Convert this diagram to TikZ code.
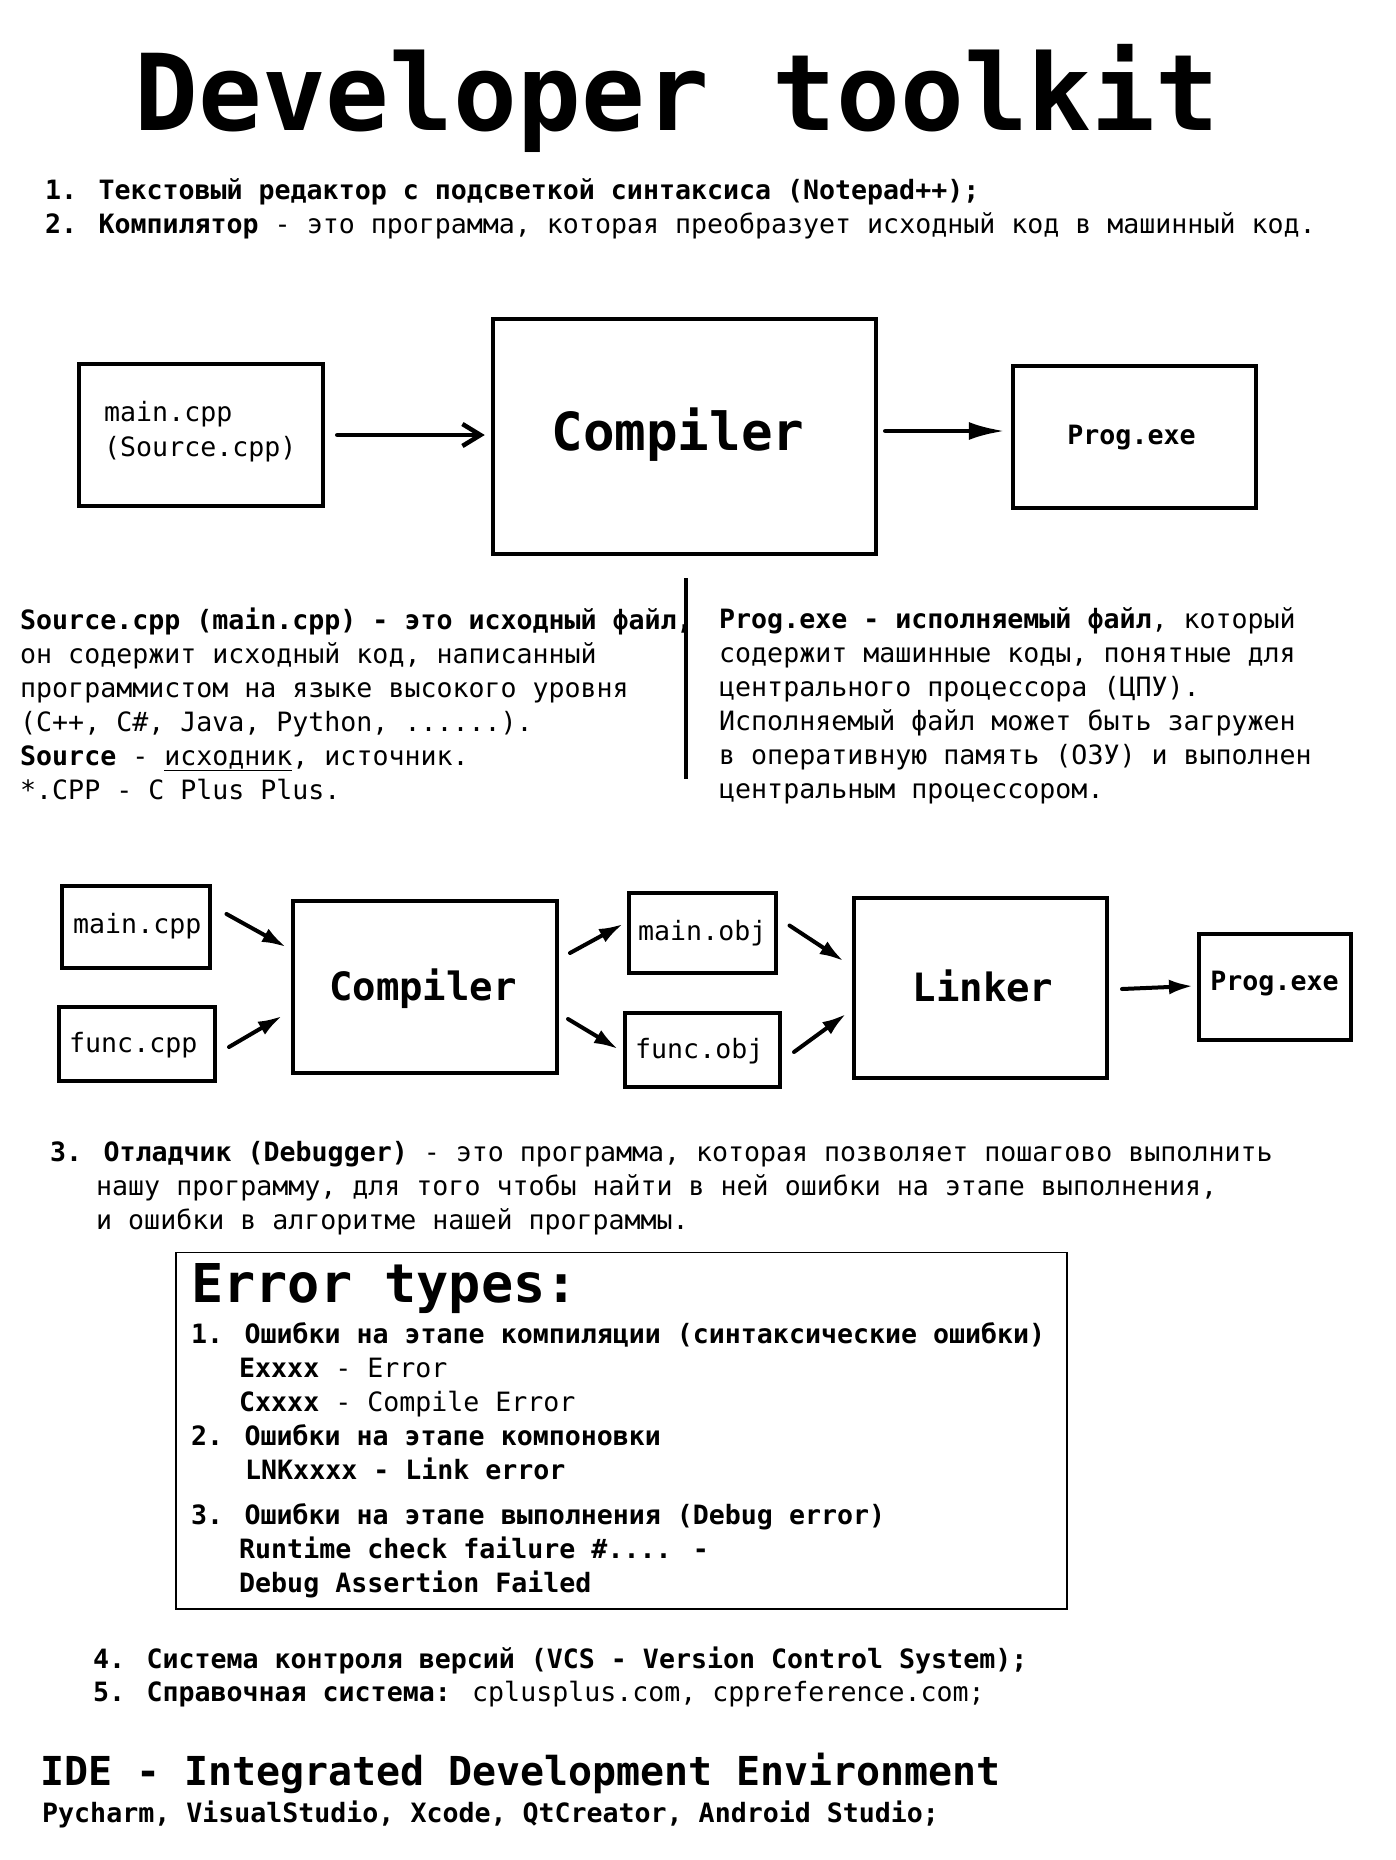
\documentclass[tikz,border=0pt]{standalone}
\usepackage{fontspec}
\setmainfont{DejaVu Sans Mono}
\usetikzlibrary{arrows.meta}
\newcommand\fsN{\fontsize{26.6}{32}\selectfont}
\begin{document}
\begin{tikzpicture}[x=1pt,y=-1pt,
  box/.style={draw, line width=4pt, rectangle, inner sep=0pt},
  txt/.style={anchor=base west, inner sep=0pt, font=\fsN},
  ctr/.style={anchor=base, inner sep=0pt},
  arr/.style={line width=4pt, line cap=round, -{Latex[length=24pt,width=15pt]}},
  arrbig/.style={line width=4.5pt, line cap=round, -{Latex[length=36pt,width=18pt]}},
  arrbarb/.style={line width=4.5pt, line cap=round, -{Straight Barb[length=18pt,width=22pt,line width=4.5pt]}}
]
\fill[white] (0,0) rectangle (1396,1860);
\useasboundingbox (0,0) rectangle (1396,1860);

% Title
\node[ctr, font=\fontsize{106}{120}\selectfont\bfseries] (title) at (677,130) {Developer toolkit};

% Top list
\node[txt] (t1) at (45,199) {\textbf{1. Текстовый редактор с подсветкой синтаксиса (Notepad++);}};
\node[txt] (t2) at (45,233) {\textbf{2. Компилятор} - это программа, которая преобразует исходный код в машинный код.};

% First diagram
\node[box, line width=4.5pt, minimum width=244pt, minimum height=142pt] (bA) at (201,435) {};
\node[box, line width=4.5pt, minimum width=383pt, minimum height=235pt] (cA) at (684.5,436.5) {};
\node[box, line width=4.5pt, minimum width=243pt, minimum height=142pt] (pA) at (1134.5,437) {};
\node[txt] (bAt1) at (104,421) {main.cpp};
\node[txt] (bAt2) at (104,456) {(Source.cpp)};
\node[ctr, font=\fontsize{52.5}{60}\selectfont\bfseries] (cAt) at (678,450) {Compiler};
\node[ctr, font=\fsN\bfseries] (pAt) at (1131.5,444) {Prog.exe};
\draw[arrbarb] ([shift={(12,0)}]bA.east) -- ([shift={(-6,-1.5)}]cA.west);
\draw[arrbig] ([shift={(7,-5.5)}]cA.east) -- ([shift={(-6,-6)}]pA.west);

% Divider
\draw[line width=4pt] (686,578) -- (686,779);

% Left text block
\node[txt] (s1) at (20,629) {\textbf{Source.cpp (main.cpp) - это исходный файл,}};
\node[txt] (s2) at (20,663) {он содержит исходный код, написанный};
\node[txt] (s3) at (20,697) {программистом на языке высокого уровня};
\node[txt] (s4) at (20,731) {(C++, C\#, Java, Python, ......).};
\node[txt] (s5) at (20,765) {\textbf{Source} - \underline{исходник}, источник.};
\node[txt] (s6) at (20,799) {*.CPP - C Plus Plus.};

% Right text block
\node[txt] (r1) at (719,628) {\textbf{Prog.exe - исполняемый файл}, который};
\node[txt] (r2) at (719,662) {содержит машинные коды, понятные для};
\node[txt] (r3) at (719,696) {центрального процессора (ЦПУ).};
\node[txt] (r4) at (719,730) {Исполняемый файл может быть загружен};
\node[txt] (r5) at (719,764) {в оперативную память (ОЗУ) и выполнен};
\node[txt] (r6) at (719,798) {центральным процессором.};

% Second diagram
\node[box, minimum width=148pt, minimum height=82pt] (m2) at (136,927) {};
\node[box, minimum width=156pt, minimum height=74pt] (f2) at (137,1044) {};
\node[box, minimum width=264pt, minimum height=171.5pt] (c2) at (425,987) {};
\node[box, minimum width=147pt, minimum height=80pt] (mo) at (702.5,933) {};
\node[box, minimum width=155pt, minimum height=74.5pt] (fo) at (702.5,1050) {};
\node[box, minimum width=253pt, minimum height=180pt] (lk) at (980.5,988) {};
\node[box, minimum width=152pt, minimum height=106pt] (p2) at (1275,987) {};

\node[txt] (m2t) at (73,933) {main.cpp};
\node[txt] (f2t) at (69,1052) {func.cpp};
\node[ctr, font=\fontsize{39}{45}\selectfont\bfseries] (c2t) at (423,1000) {Compiler};
\node[txt] (mot) at (638,940) {main.obj};
\node[txt] (fot) at (635,1058.5) {func.obj};
\node[ctr, font=\fontsize{39}{45}\selectfont\bfseries] (lkt) at (983,1001) {Linker};
\node[ctr, font=\fsN\bfseries] (p2t) at (1274.5,990) {Prog.exe};

\draw[arr] ([shift={(14.5,-13)}]m2.east) -- ([shift={(-5,-40)}]c2.west);
\draw[arr] ([shift={(12,3)}]f2.east) -- ([shift={(-9,29)}]c2.west);
\draw[arr] ([shift={(11,-34)}]c2.east) -- ([shift={(-4,-9)}]mo.west);
\draw[arr] ([shift={(9,32)}]c2.east) -- ([shift={(-5,-1)}]fo.west);
\draw[arr] ([shift={(11.5,-7.5)}]mo.east) -- ([shift={(-8.5,-27)}]lk.west);
\draw[arr] ([shift={(12,2)}]fo.east) -- ([shift={(-6,26)}]lk.west);
\draw[arr] ([shift={(13,1)}]lk.east) -- ([shift={(-4,-1)}]p2.west);

% Debugger
\node[txt] (d1) at (50,1161) {\textbf{3. Отладчик (Debugger)} - это программа, которая позволяет пошагово выполнить};
\node[txt] (d2) at (96,1195) {нашу программу, для того чтобы найти в ней ошибки на этапе выполнения,};
\node[txt] (d3) at (96,1229) {и ошибки в алгоритме нашей программы.};

% Error types box
\node[draw, line width=1.3pt, inner sep=0pt, minimum width=891pt, minimum height=356.4pt] (eb) at (621.5,1430.8) {};
\node[txt, font=\fontsize{53.5}{60}\selectfont\bfseries] (et) at (191,1302) {Error types:};
\node[txt] (e1) at (191,1343) {\textbf{1. Ошибки на этапе компиляции (синтаксические ошибки)}};
\node[txt] (e2) at (239,1377) {\textbf{Exxxx} - Error};
\node[txt] (e3) at (239,1411.5) {\textbf{Cxxxx} - Compile Error};
\node[txt] (e4) at (191,1445) {\textbf{2. Ошибки на этапе компоновки}};
\node[txt] (e5) at (245,1479) {\textbf{LNKxxxx - Link error}};
\node[txt] (e6) at (191,1524.5) {\textbf{3. Ошибки на этапе выполнения (Debug error)}};
\node[txt] (e7) at (239,1558) {\textbf{Runtime check failure \#.... -}};
\node[txt] (e8) at (239,1592.5) {\textbf{Debug Assertion Failed}};

% 4, 5
\node[txt] (v4) at (93,1668) {\textbf{4. Система контроля версий (VCS - Version Control System);}};
\node[txt] (v5) at (93,1701) {\textbf{5. Справочная система:} cplusplus.com, cppreference.com;};

% IDE
\node[txt, font=\fontsize{39.9}{46}\selectfont\bfseries] (ide) at (40,1785) {IDE - Integrated Development Environment};
\node[txt, font=\fsN\bfseries] (ides) at (42,1822) {Pycharm, VisualStudio, Xcode, QtCreator, Android Studio;};
\end{tikzpicture}
\end{document}
